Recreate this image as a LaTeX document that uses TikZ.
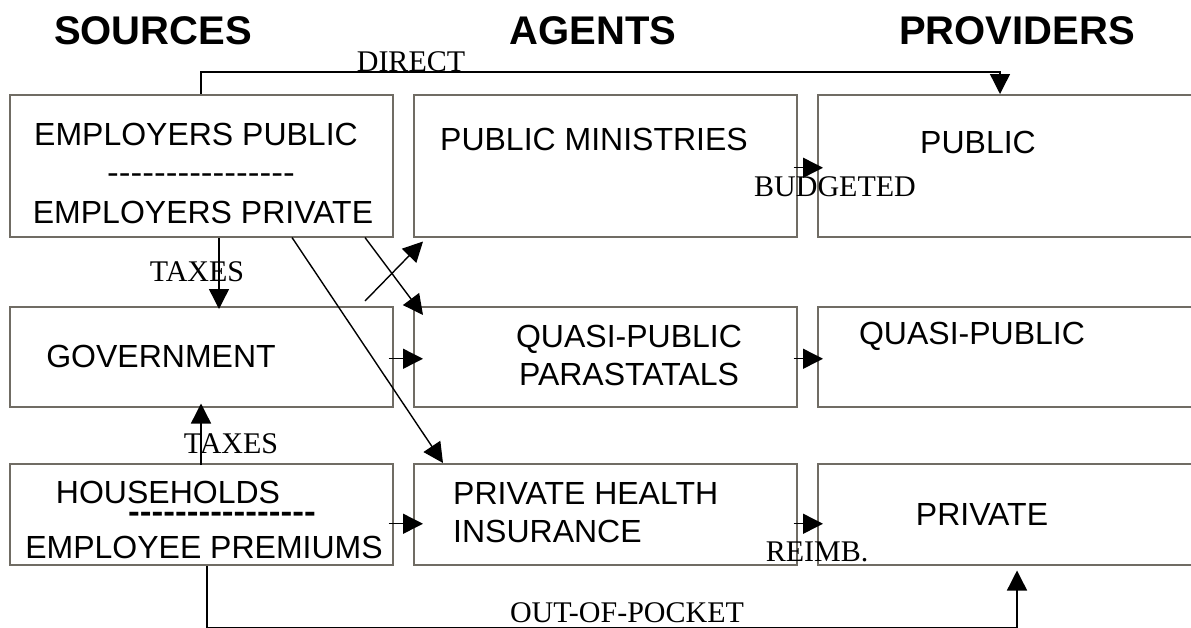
\documentclass[tikz,border=0pt]{standalone}
\usepackage{fontspec}
\setmainfont{Liberation Serif}
\setsansfont{Liberation Sans}
\usetikzlibrary{arrows.meta,calc}
\definecolor{boxgray}{RGB}{112,108,100}
\newcommand\dashrow{-{}-{}-{}-{}-{}-{}-{}-{}-{}-{}-{}-{}-{}-{}-{}-}
\tikzset{
  box/.style={draw=boxgray, line width=1.5pt, rectangle, inner sep=0pt, anchor=north west, minimum width=383pt},
  sans/.style={font=\fontsize{32}{38}\selectfont\sffamily, inner sep=0pt},
  lab/.style={font=\fontsize{30}{34}\selectfont\rmfamily, inner sep=0pt},
  ttl/.style={font=\fontsize{40}{46}\selectfont\sffamily\bfseries, inner sep=0pt},
  arr/.style={-{Triangle[length=20pt,width=20pt]}, line width=1.4pt, black},
}
\begin{document}
\begin{tikzpicture}[x=1pt,y=-1pt]
\clip (0,0) rectangle (1191,627);
\fill[white] (0,0) rectangle (1191,627);
% titles
\node[ttl] (tsrc) at (153,31) {SOURCES};
\node[ttl] (tagt) at (593,31) {AGENTS};
\node[ttl] (tprv) at (1017,31) {PROVIDERS};
% boxes
\node[box, minimum height=142pt] (emp) at (9,94) {};
\node[box, minimum height=142pt] (pm) at (413,94) {};
\node[box, minimum height=142pt] (pub) at (817,94) {};
\node[box, minimum height=100pt] (gov) at (9,306) {};
\node[box, minimum height=100pt] (qpa) at (413,306) {};
\node[box, minimum height=100pt] (qpp) at (817,306) {};
\node[box, minimum height=101pt] (hh) at (9,463) {};
\node[box, minimum height=101pt] (phi) at (413,463) {};
\node[box, minimum height=101pt] (prv) at (817,463) {};
% box texts
\node[sans] (empA) at (196,134) {EMPLOYERS PUBLIC};
\node[sans, anchor=base] (empD) at (201,183) {\scalebox{1.1}[1]{\dashrow}};
\node[sans] (empB) at (203,212) {EMPLOYERS PRIVATE};
\node[sans] (pmT) at (594,139) {PUBLIC MINISTRIES};
\node[sans] (pubT) at (978,142) {PUBLIC};
\node[sans] (govT) at (161,356) {GOVERNMENT};
\node[sans, align=center] (qpaT) at (629,355) {QUASI-PUBLIC\\PARASTATALS};
\node[sans] (qppT) at (972,336) {QUASI-PUBLIC};
\node[sans] (hhA) at (168,492) {HOUSEHOLDS};
\node[sans, anchor=base] (hhD) at (222,522) {\scalebox{1.1}[1]{\bfseries\dashrow}};
\node[sans] (hhB) at (204,547) {EMPLOYEE PREMIUMS};
\node[sans, align=left, anchor=west] (phiT) at (453,513) {PRIVATE HEALTH\\INSURANCE};
\node[sans] (prvT) at (982,514) {PRIVATE};
% connectors
\draw[arr] ($(emp.north west)+(192,0)$) -- ++(0,-22) -| ($(pub.north west)+(183,0)$);
\draw[arr] ($(emp.south west)+(210,0)$) -- ($(gov.north west)+(210,3)$);
\draw[arr] ($(hh.north west)+(192,2)$) -- ($(gov.south west)+(192,-4)$);
\draw[arr] ($(emp.south west)+(283,0)$) -- ($(phi.north west)+(30,0)$);
\draw[arr] ($(emp.south west)+(356,0)$) -- ($(qpa.north west)+(10,9)$);
\draw[arr] ($(gov.north west)+(356,-5)$) -- ($(pm.south west)+(10,4)$);
\draw[arr] ($(gov.east)+(-5,2)$) -- ($(qpa.west)+(10,2)$);
\draw[arr] ($(qpa.east)+(-4,2)$) -- ($(qpp.west)+(6,2)$);
\draw[arr] ($(pm.east)+(-4,2)$) -- ($(pub.west)+(6,2)$);
\draw[arr] ($(hh.east)+(-5,9.5)$) -- ($(phi.west)+(10,9.5)$);
\draw[arr] ($(phi.east)+(-4,9.5)$) -- ($(prv.west)+(6,9.5)$);
\draw[arr] ($(hh.south west)+(198,0)$) -- ++(0,62) -| ($(prv.south west)+(200,5)$);
% connector labels
\node[lab, anchor=base] (lDirect) at (411,71) {DIRECT};
\node[lab] (lTax1) at (197,272) {TAXES};
\node[lab] (lTax2) at (231,444) {TAXES};
\node[lab] (lBud) at (835,187) {BUDGETED};
\node[lab] (lReimb) at (817,552) {REIMB.};
\node[lab] (lOop) at (627,613) {OUT-OF-POCKET};
\end{tikzpicture}
\end{document}
